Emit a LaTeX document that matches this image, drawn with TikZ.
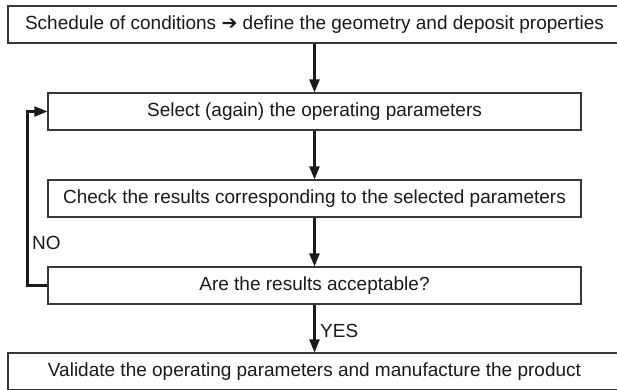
\documentclass[tikz,border=0pt]{standalone}
\usepackage{fontspec}
\setmainfont{Liberation Sans}
\newfontfamily\symfont{DejaVu Sans}[BoldFont={DejaVu Sans Bold}]
\usetikzlibrary{arrows.meta}
\definecolor{ink}{HTML}{1A1A1A}
\definecolor{frame}{HTML}{383838}
\tikzset{
  stepbox/.style={draw=frame, line width=1.1pt, fill=white, inner sep=0pt,
    minimum height=37pt, text=ink, font=\fontsize{19pt}{22pt}\selectfont},
  wide/.style={minimum width=613pt},
  narrow/.style={minimum width=533pt},
  flow/.style={draw=ink, line width=2.1pt,
    -{Triangle[length=13pt,width=10pt]}},
  tag/.style={text=ink, inner sep=0pt, font=\fontsize{19pt}{22pt}\selectfont}
}
\begin{document}
\begin{tikzpicture}[x=1pt, y=-1pt]
  \clip (0,0) rectangle (617,389);
  \fill[white] (0,0) rectangle (617,389);

  \node[stepbox, wide]   (spec)  at (314.5, 24.5)
    {Schedule of conditions {\symfont\bfseries\char"2794} define the geometry and deposit properties};
  \node[stepbox, narrow] (sel)   at (314.5, 111.5) {Select (again) the operating parameters};
  \node[stepbox, narrow] (check) at (314.5, 198.5) {Check the results corresponding to the selected parameters};
  \node[stepbox, narrow] (ok)    at (314.5, 285.5) {Are the results acceptable?};
  \node[stepbox, wide]   (done)  at (314.5, 371.5) {Validate the operating parameters and manufacture the product};

  \draw[flow] (spec.south) -- (sel.north);
  \draw[flow] (sel.south) -- (check.north);
  \draw[flow] (check.south) -- (ok.north);
  \draw[flow] (ok.south) -- (done.north);
  \draw[flow] (ok.west) -- ++(-20,0) |- (sel.west);

  \node[tag, anchor=west] (yes) at (320, 331) {YES};
  \node[tag, anchor=west] (no)  at (32, 243) {NO};
\end{tikzpicture}
\end{document}
